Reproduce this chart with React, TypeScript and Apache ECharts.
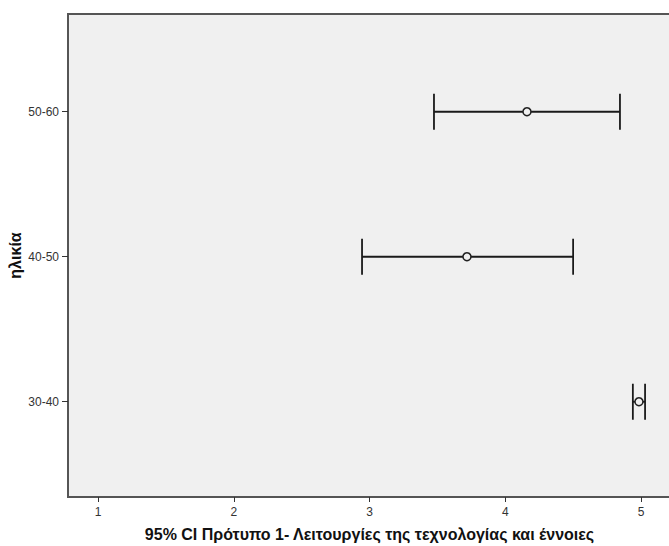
import React, { useEffect, useRef } from "react";
import * as echarts from "echarts";

const categories = ["30-40", "40-50", "50-60"];
const means = [4.985, 3.718, 4.16];
const lower = [4.94, 2.945, 3.475];
const upper = [5.03, 4.5, 4.845];
const xTicks = [1, 2, 3, 4, 5];
const xTitle = "95% CI Πρότυπο 1- Λειτουργίες της τεχνολογίας και έννοιες";
const yTitle = "ηλικία";

const FONT = "'Liberation Sans', Arial, sans-serif";

export default function App() {
  const ref = useRef<HTMLDivElement>(null);
  useEffect(() => {
    if (!ref.current) return;
    const chart = echarts.init(ref.current, null, { renderer: "svg" });
    const catPos = categories.map((_, i) => i + 1);
    const option: any = {
      animation: false,
      backgroundColor: "#ffffff",
      textStyle: { fontFamily: FONT },
      grid: {
        left: 68,
        top: 14,
        width: 603,
        height: 483,
        outerBoundsMode: "none",
        containLabel: false,
        show: true,
        backgroundColor: "#f0f0f0",
        borderColor: "#555555",
        borderWidth: 2,
      },
      xAxis: {
        type: "value",
        min: 0.779,
        max: 5.221,
        name: xTitle,
        nameLocation: "middle",
        nameGap: 29,
        nameMoveOverlap: false,
        nameTextStyle: { fontSize: 16, fontWeight: "bold", color: "#111", fontFamily: FONT },
        axisLine: { show: true, lineStyle: { color: "#555555", width: 2 } },
        axisTick: { show: true, inside: false, length: 5, customValues: xTicks, lineStyle: { color: "#333" } },
        axisLabel: { customValues: xTicks, fontSize: 12, color: "#333", margin: 9, fontFamily: FONT },
        splitLine: { show: false },
      },
      yAxis: {
        type: "value",
        min: 0.343,
        max: 3.674,
        name: yTitle,
        nameLocation: "middle",
        nameRotate: 90,
        nameGap: 45,
        nameMoveOverlap: false,
        nameTextStyle: { fontSize: 16, fontWeight: "bold", color: "#111", fontFamily: FONT },
        axisLine: { show: true, lineStyle: { color: "#555555", width: 2 } },
        axisTick: { show: true, inside: false, length: 6, customValues: catPos, lineStyle: { color: "#333" } },
        axisLabel: {
          customValues: catPos,
          fontSize: 12,
          color: "#333",
          margin: 9,
          fontFamily: FONT,
          formatter: (v: number) => categories[Math.round(v) - 1] ?? "",
        },
        splitLine: { show: false },
      },
      series: [
        {
          type: "custom",
          data: categories.map((_, i) => [lower[i], upper[i], i + 1]),
          renderItem: (params: any, api: any) => {
            const lo = api.coord([api.value(0), api.value(2)]);
            const hi = api.coord([api.value(1), api.value(2)]);
            const h = 18;
            const style = { stroke: "#1a1a1a", lineWidth: 1.8 };
            return {
              type: "group",
              children: [
                { type: "line", shape: { x1: lo[0], y1: lo[1], x2: hi[0], y2: hi[1] }, style },
                { type: "line", shape: { x1: lo[0], y1: lo[1] - h, x2: lo[0], y2: lo[1] + h }, style },
                { type: "line", shape: { x1: hi[0], y1: hi[1] - h, x2: hi[0], y2: hi[1] + h }, style },
              ],
            };
          },
          z: 2,
        },
        {
          type: "scatter",
          data: means.map((m, i) => [m, i + 1]),
          symbol: "circle",
          symbolSize: 8,
          itemStyle: { color: "#f0f0f0", borderColor: "#222", borderWidth: 1.5, opacity: 1 },
          z: 3,
        },
      ],
    };
    chart.setOption(option);
    return () => chart.dispose();
  }, []);
  return (
    <div
      ref={ref}
      style={{ position: "absolute", left: 0, top: 0, width: 669, height: 546 }}
    />
  );
}
